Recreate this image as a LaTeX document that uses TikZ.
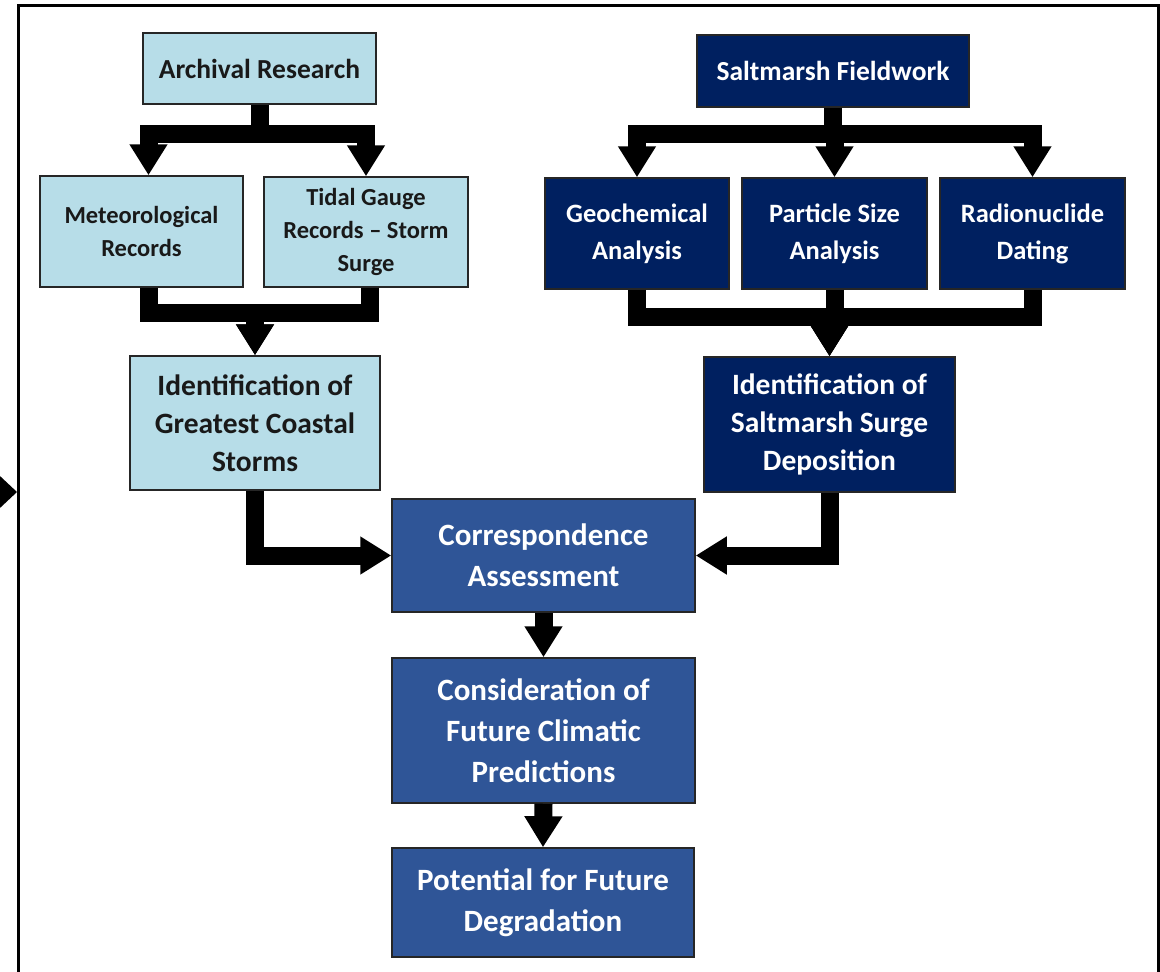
\documentclass[tikz,border=0pt]{standalone}
\usepackage{fontspec}
\setmainfont{Carlito}
\usepackage{tikz}
\usetikzlibrary{arrows.meta}
\definecolor{lightbox}{RGB}{183,221,232}
\definecolor{navybox}{RGB}{0,32,96}
\definecolor{midbox}{RGB}{47,85,151}

\begin{document}
\begin{tikzpicture}[x=1pt, y=-1pt,
			light node/.style={rectangle,draw=black!85,line width=1.5pt,fill=lightbox,text=black!90,align=center,inner sep=0pt},
			dark node/.style={light node,fill=navybox,text=white},
			mid node/.style={light node,fill=midbox,text=white},
			small font/.style={font=\fontsize{24.5}{33}\selectfont\bfseries},
			dark font/.style={font=\fontsize{26.5}{37}\selectfont\bfseries},
			top font/.style={font=\fontsize{27.5}{33}\selectfont\bfseries},
			big font/.style={font=\fontsize{29.5}{38}\selectfont\bfseries},
			huge font/.style={font=\fontsize{31}{41}\selectfont\bfseries},
			flow/.style={line width=18pt,line join=miter,-{Triangle[width=36pt,length=31pt]}}]
			
			\useasboundingbox (0,0) rectangle (1160,972);
			\fill[white] (0,0) rectangle (1160,972);
			\draw[line width=3pt] (18,990) -- (18,5) -- (1158,5) -- (1158,990);
			\fill (17,492) -- (-15,462) -- (-15,522) -- cycle;
			
			\node[light node,top font,minimum width=233pt,minimum height=71pt] (1) at (259.5,68.5) {Archival Research};
			\node[light node,small font,minimum width=203pt,minimum height=111pt] (2) at (141.5,231.5) {Meteorological\\Records};
			\node[light node,small font,minimum width=204pt,minimum height=110pt] (3) at (366,232) {Tidal Gauge\\Records -- Storm\\Surge};
			\node[light node,big font,minimum width=250pt,minimum height=134pt] (4) at (255,423) {Identification of\\Greatest Coastal\\Storms};
			
			\node[dark node,top font,minimum width=272pt,minimum height=72pt] (5) at (833,71) {Saltmarsh Fieldwork};
			\node[dark node,dark font,minimum width=184pt,minimum height=111pt] (6) at (637,233.5) {Geochemical\\Analysis};
			\node[dark node,dark font,minimum width=185pt,minimum height=111pt] (7) at (834.5,233.5) {Particle Size\\Analysis};
			\node[dark node,dark font,minimum width=185pt,minimum height=111pt] (8) at (1032.5,233.5) {Radionuclide\\Dating};
			\node[dark node,big font,minimum width=251pt,minimum height=135pt] (9) at (829.5,424.5) {Identification of\\Saltmarsh Surge\\Deposition};
			
			\node[mid node,huge font,minimum width=303pt,minimum height=113pt] (10) at (543.5,555.5) {Correspondence\\Assessment};
			\node[mid node,huge font,minimum width=303pt,minimum height=145pt] (11) at (543.5,730.5) {Consideration of\\Future Climatic\\Predictions};
			\node[mid node,huge font,minimum width=302pt,minimum height=109pt] (12) at (543,902.5) {Potential for Future\\Degradation};
			
			% archival branch
			\draw[flow] (1.south) -- ++(0,29) -| ([xshift=7pt]2.north);
			\draw[flow] (1.south) -- ++(0,29) -| (3.north);
			\draw[flow] ([xshift=7pt]2.south) -- ++(0,25) -| (4.north);
			\draw[flow] ([xshift=4pt]3.south) -- ++(0,25) -| (4.north);
			
			% fieldwork branch
			\draw[flow] (5.south) -- ++(0,26) -| (6.north);
			\draw[flow] (5.south) -- ++(0,26) -| (7.north);
			\draw[flow] (5.south) -- ++(0,26) -| (8.north);
			\draw[flow] (6.south) -- ++(0,27) -| (9.north);
			\draw[flow] (7.south) -- ++(0,27) -| (9.north);
			\draw[flow] (8.south) -- ++(0,27) -| (9.north);
			
			\draw[flow] (4.south) |- (10.west);
			\draw[flow] (9.south) |- (10.east);
			\draw[flow] (10.south) -- (11.north);
			\draw[flow] (11.south) -- (12.north);
			\end{tikzpicture}
\end{document}
